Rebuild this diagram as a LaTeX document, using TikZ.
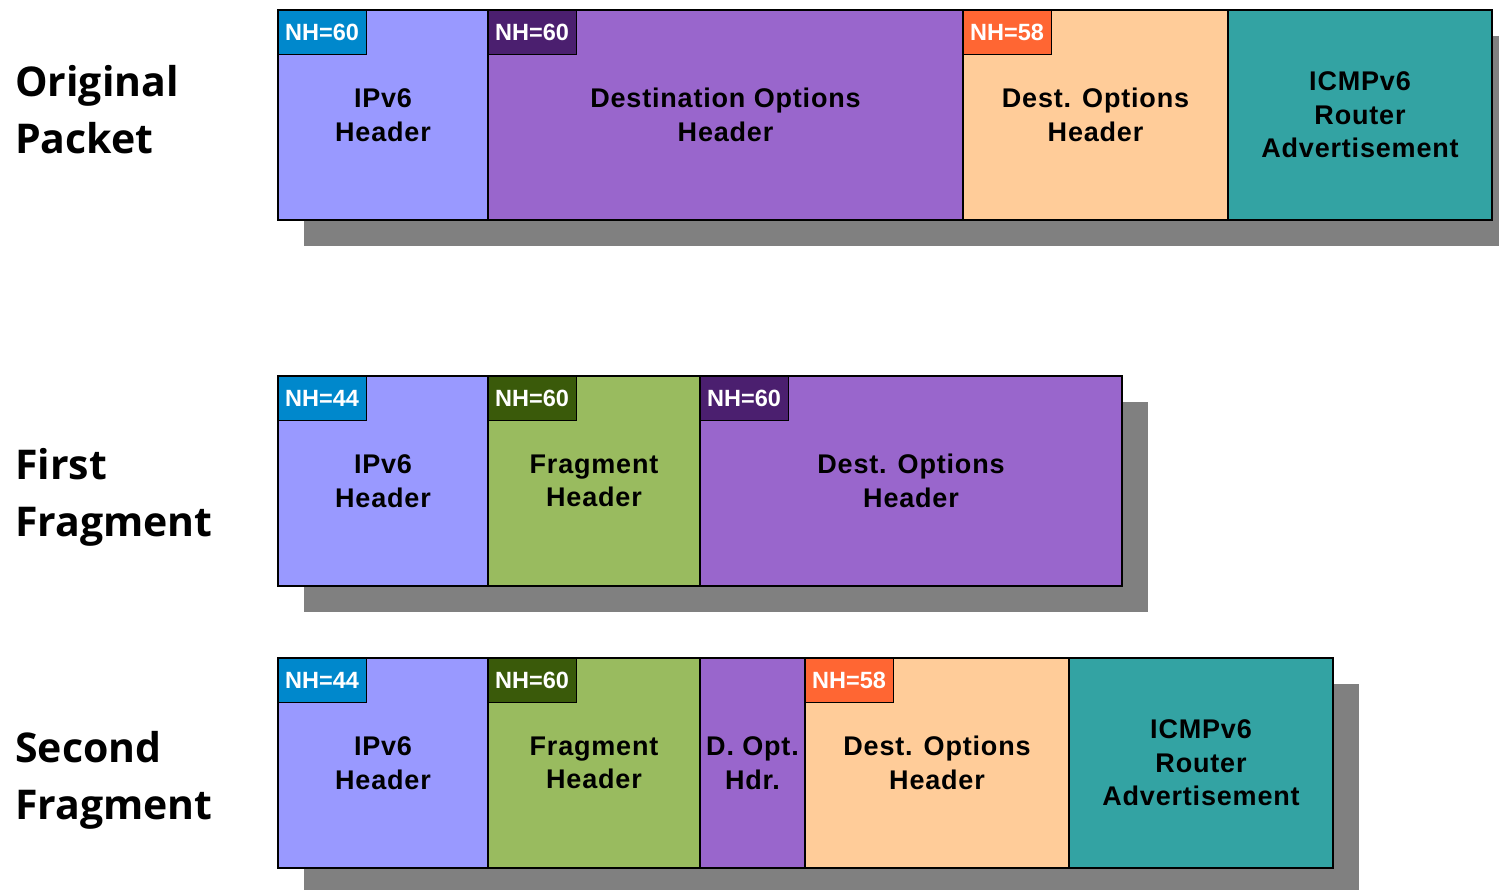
\documentclass[tikz,border=0pt]{standalone}
\usepackage{fontspec}
\setmainfont{Liberation Sans}
\newfontfamily\boxfont[LetterSpace=3]{Liberation Sans}
\newfontfamily\sidefont{Open Sans}
\usetikzlibrary{calc, positioning, backgrounds}
\definecolor{ipvsix}{HTML}{9999FF}
\definecolor{dopt}{HTML}{9966CC}
\definecolor{peach}{HTML}{FFCC99}
\definecolor{teal}{HTML}{33A3A3}
\definecolor{frag}{HTML}{99BB5F}
\definecolor{tagblue}{HTML}{0088CC}
\definecolor{tagpurple}{HTML}{4B1F6F}
\definecolor{taggreen}{HTML}{3A5A0A}
\definecolor{tagorange}{HTML}{FF6633}
\definecolor{shadowgray}{HTML}{808080}
\tikzset{
  pkt/.style={draw=black, line width=1.6pt, minimum height=210, outer sep=0pt, inner sep=0pt,
    align=center, font=\boxfont\bfseries\fontsize{27}{33.5}\selectfont},
  nhtag/.style={draw=black, line width=1pt, fill=#1, anchor=north west, minimum width=88,
    minimum height=44, inner sep=0pt, outer sep=0pt, text=white, font=\bfseries\fontsize{23.5}{26}\selectfont},
  side/.style={anchor=west, align=left, inner sep=0pt, font=\sidefont\bfseries\fontsize{41}{57}\selectfont}
}
\newcommand\nhtag[3]{\node[nhtag=#3] (#1tag) at (#1.north west) {NH=#2};}
\newcommand\rowshadow[2]{\fill[shadowgray] ($(#1.north west)+(26,26)$) rectangle ($(#2.south east)+(26,26)$);}

\begin{document}
\begin{tikzpicture}[x=1pt, y=-1pt]
\useasboundingbox (0,0) rectangle (1499,889);

% original packet
\node[side] (origlbl) at (15,110) {Original\\Packet};
\node[pkt, fill=ipvsix, minimum width=210, anchor=north west] (ipa) at (278,10) {IPv6\\Header};
\node[pkt, fill=dopt, minimum width=475, right=0pt of ipa] (doa) {Destination Options\\Header};
\node[pkt, fill=peach, minimum width=265, right=0pt of doa] (dsa) {Dest. Options\\Header};
\node[pkt, fill=teal, minimum width=264, right=0pt of dsa] (rta) {ICMPv6\\Router\\Advertisement};
\nhtag{ipa}{60}{tagblue}
\nhtag{doa}{60}{tagpurple}
\nhtag{dsa}{58}{tagorange}

% first fragment
\node[side] (firstlbl) at (15,497) {First\\Fragment};
\node[pkt, fill=ipvsix, minimum width=210, anchor=north west] (ipb) at (278,376) {IPv6\\Header};
\node[pkt, fill=frag, minimum width=212, right=0pt of ipb] (frb) {Fragment\\Header};
\node[pkt, fill=dopt, minimum width=422, right=0pt of frb] (dob) {Dest. Options\\Header};
\nhtag{ipb}{44}{tagblue}
\nhtag{frb}{60}{taggreen}
\nhtag{dob}{60}{tagpurple}

% second fragment
\node[side] (secondlbl) at (15,780) {Second\\Fragment};
\node[pkt, fill=ipvsix, minimum width=210, anchor=north west] (ipc) at (278,658) {IPv6\\Header};
\node[pkt, fill=frag, minimum width=212, right=0pt of ipc] (frc) {Fragment\\Header};
\node[pkt, fill=dopt, minimum width=105, right=0pt of frc] (doc) {D. Opt.\\Hdr.};
\node[pkt, fill=peach, minimum width=264, right=0pt of doc] (dsc) {Dest. Options\\Header};
\node[pkt, fill=teal, minimum width=264, right=0pt of dsc] (rtc) {ICMPv6\\Router\\Advertisement};
\nhtag{ipc}{44}{tagblue}
\nhtag{frc}{60}{taggreen}
\nhtag{dsc}{58}{tagorange}

\begin{scope}[on background layer]
\rowshadow{ipa}{rta}
\rowshadow{ipb}{dob}
\rowshadow{ipc}{rtc}
\end{scope}
\end{tikzpicture}
\end{document}
